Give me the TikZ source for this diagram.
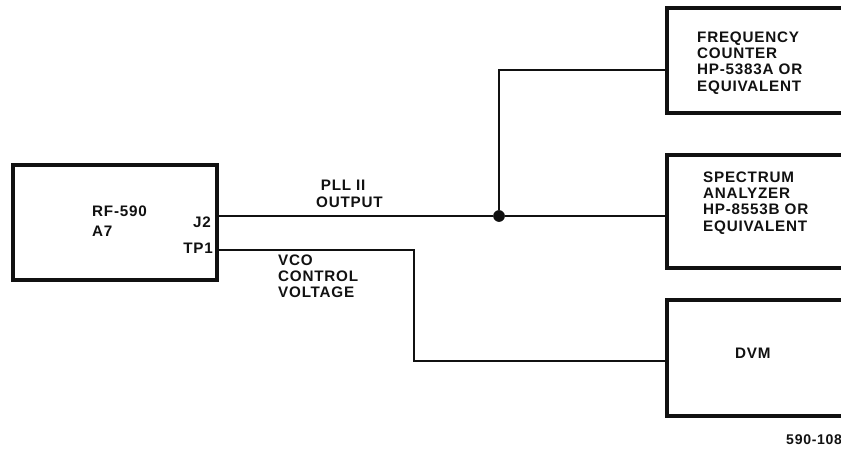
\documentclass[tikz,border=0pt]{standalone}
\usepackage{fontspec}
\setmainfont[LetterSpace=5]{Liberation Sans}
\usetikzlibrary{positioning,calc,fit}
\definecolor{inkblack}{HTML}{111111}

\begin{document}
\begin{tikzpicture}[
  x=0.03cm,y=-0.03cm,
  unitbox/.style={draw=inkblack, line width=2.6pt, inner sep=0pt},
  lbl/.style={font=\fontsize{13}{13.8}\selectfont\bfseries, color=inkblack, align=left, inner sep=0pt},
  wire/.style={draw=inkblack, line width=1.5pt},
  jdot/.style={circle, fill=inkblack, inner sep=0pt, minimum size=10pt},
]
\useasboundingbox (0,0) rectangle (841,449);
% boxes (the instruments run off the right edge)
\node[unitbox, fit={(13,165) (217,280)}] (rf) {};
\node[unitbox, fit={(667,8) (870,113)}] (fc) {};
\node[unitbox, fit={(667,155) (870,268)}] (sa) {};
\node[unitbox, fit={(667,300) (870,416)}] (dvm) {};
% box texts
\node[lbl, anchor=west] (rftext) at (92,221) {RF-590\\[3pt]A7};
\node[lbl, anchor=east] (j2) at (211,222) {J2};
\node[lbl, anchor=east] (tp1) at (213,248) {TP1};
\node[lbl, anchor=west] (fctext) at (697,63) {FREQUENCY\\COUNTER\\HP-5383A OR\\EQUIVALENT};
\node[lbl, anchor=west] (satext) at (703,203) {SPECTRUM\\ANALYZER\\HP-8553B OR\\EQUIVALENT};
\node[lbl, anchor=west] (dvmtext) at (735,353) {DVM};
% wire labels
\node[lbl, anchor=west] (plltext) at (316,194) {\hspace{4pt}PLL II\\[1pt]OUTPUT};
\node[lbl, anchor=west] (vcotext) at (278,276) {VCO\\CONTROL\\VOLTAGE};
\node[lbl, anchor=west, font=\fontsize{12}{13}\selectfont\bfseries] (figno) at (786,440) {590-108};
% PLL II output to both instruments
\node[jdot] (jn) at (499,216) {};
\coordinate (fcin) at (667,70);
\coordinate (bend) at (414,250);
\draw[wire] (rf.east |- jn) -- (jn) -- (sa.west |- jn);
\draw[wire] (jn) -- (jn |- fcin) -- (fcin);
% VCO control voltage to the DVM
\draw[wire] (rf.east |- bend) -- (bend) -- (bend |- 0,361) -- (dvm.west |- 0,361);
\end{tikzpicture}
\end{document}
